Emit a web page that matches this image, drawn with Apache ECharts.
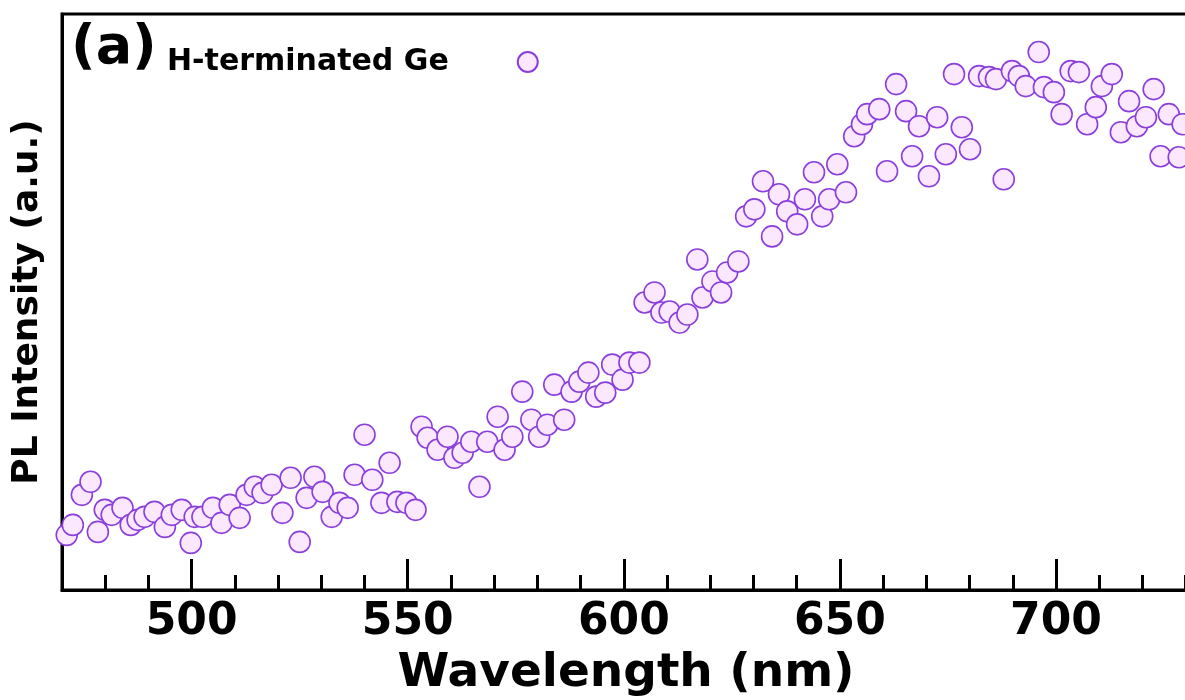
<!DOCTYPE html>
<html>
<head>
<meta charset="utf-8">
<script src="https://cdn.jsdelivr.net/npm/echarts@6/dist/echarts.min.js"></script>
<style>html,body{margin:0;padding:0;background:#fff}#c{width:1185px;height:700px}</style>
</head>
<body>
<div id="c"></div>
<script>
var wavelength = [471.1,472.5,474.6,476.6,478.3,479.9,481.5,484.0,485.9,487.5,
489.1,491.4,493.8,495.4,497.7,499.8,500.7,502.5,504.9,506.9,
508.8,511.1,512.7,514.6,516.4,518.5,521.0,522.9,525.0,526.6,
528.4,530.3,532.4,534.2,536.1,537.7,540.0,541.8,543.9,545.8,
547.6,549.7,551.8,553.2,554.6,556.9,559.2,560.8,562.7,564.7,
566.6,568.4,570.8,572.4,574.2,576.5,578.6,580.4,582.3,583.9,
586.2,587.9,589.7,591.8,593.6,595.7,597.3,599.7,601.3,603.6,
604.8,607.1,608.7,610.6,612.9,614.7,617.0,618.2,620.5,622.5,
623.9,626.5,628.3,630.2,632.2,634.3,635.9,637.8,640.1,641.9,
644.0,645.9,647.5,649.4,651.4,653.3,655.1,656.3,659.1,660.9,
663.0,665.3,666.7,668.3,670.6,672.5,674.5,676.4,678.2,680.1,
682.2,684.5,686.1,687.9,689.8,691.4,693.0,696.0,697.2,699.5,
701.3,703.4,705.3,707.2,709.2,710.6,712.9,715.0,716.9,718.7,
720.8,722.6,724.2,726.1,728.4,729.3];
var intensity = [55,65,95,108,58,80,75,82,65,70,
73,78,63,75,80,47,73,73,82,67,
85,72,95,103,97,105,77,112,48,92,
113,98,73,87,82,115,155,110,87,127,
88,87,80,163,152,140,153,132,137,148,
103,148,173,140,153,198,170,153,165,205,
170,198,208,217,193,197,225,210,227,227,
287,297,277,278,267,275,330,292,308,297,
317,328,373,380,408,353,395,378,365,390,
417,373,390,425,397,453,465,475,480,418,
505,478,433,463,413,472,435,515,462,440,
513,512,510,410,518,513,503,537,502,497,
475,518,517,465,482,503,515,457,488,463,
472,500,433,475,432,465];
var majorTicks = [500,550,600,650,700];
var seriesName = 'H-terminated Ge';
var panelLabel = '(a)';

var pts = wavelength.map(function(w,i){return [w,intensity[i]];});
var FONT = 'DejaVu Sans';
var chart = echarts.init(document.getElementById('c'), null, {renderer:'canvas'});
chart.setOption({
  animation:false,
  backgroundColor:'#fff',
  title:{text:panelLabel,left:66,top:17,textStyle:{fontFamily:FONT,fontWeight:'bold',fontSize:54,color:'#000'}},
  legend:{
    data:[seriesName],left:162,top:42,align:'right',itemWidth:20,itemHeight:20,
    textStyle:{fontFamily:FONT,fontWeight:'bold',fontSize:30,color:'#000',padding:[0,64,0,0]}
  },
  grid:{left:62,right:-5,top:14,bottom:110,outerBoundsMode:'none',containLabel:false,show:true,borderColor:'#000',borderWidth:3,backgroundColor:'transparent'},
  xAxis:[{
    type:'value',min:470,max:731,position:'bottom',
    name:'Wavelength (nm)',nameLocation:'middle',nameGap:58,
    nameTextStyle:{fontFamily:FONT,fontWeight:'bold',fontSize:47,color:'#000'},
    axisLine:{show:true,lineStyle:{color:'#000',width:3}},
    axisTick:{show:true,inside:true,length:31,lineStyle:{color:'#000',width:3},customValues:majorTicks},
    axisLabel:{show:true,margin:11,fontFamily:FONT,fontWeight:'bold',fontSize:44,color:'#000',customValues:majorTicks},
    splitLine:{show:false}
  },{
    type:'value',min:470,max:731,interval:10,position:'bottom',
    axisLine:{show:false},
    axisTick:{show:true,inside:true,length:15,lineStyle:{color:'#000',width:3}},
    axisLabel:{show:false},splitLine:{show:false}
  }],
  yAxis:{
    type:'value',min:0,max:575,
    name:'PL Intensity (a.u.)',nameLocation:'middle',nameGap:16,
    nameTextStyle:{fontFamily:FONT,fontWeight:'bold',fontSize:36,color:'#000'},
    axisLine:{show:true,lineStyle:{color:'#000',width:3}},
    axisTick:{show:false},axisLabel:{show:false},splitLine:{show:false}
  },
  series:[{
    name:seriesName,type:'scatter',xAxisIndex:0,data:pts,
    symbol:'circle',symbolSize:21,
    itemStyle:{color:'#fce8fe',borderColor:'#8a3fdc',borderWidth:1.6,opacity:1}
  }]
});
</script>
</body>
</html>
